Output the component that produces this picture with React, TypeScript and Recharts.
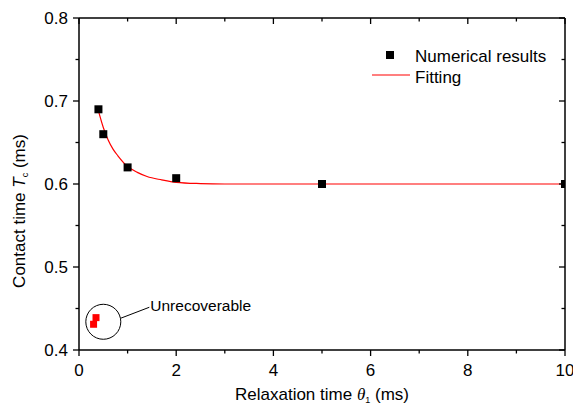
import React from "react";
import {
  ComposedChart,
  XAxis,
  YAxis,
  Scatter,
  Line,
  ReferenceDot,
} from "recharts";

// ---- data ----
const numericalX = [0.4, 0.5, 1, 2, 5, 10];
const numericalY = [0.69, 0.66, 0.62, 0.607, 0.6, 0.6];

const unrecoverableX = [0.3, 0.35];
const unrecoverableY = [0.431, 0.439];

const fitX = [0.4, 0.5, 0.6, 0.7, 0.8, 1.0, 1.2, 1.4, 1.7, 2.0, 2.5, 3.0, 4.0, 6.0, 8.0, 10.0];
const fitY = [0.688, 0.668, 0.653, 0.642, 0.634, 0.621, 0.614, 0.609, 0.605, 0.602, 0.6005, 0.6, 0.6, 0.6, 0.6, 0.6];

const xTicks = [0, 1, 2, 3, 4, 5, 6, 7, 8, 9, 10];
const xMajor = [0, 2, 4, 6, 8, 10];
const yTicks = [0.4, 0.45, 0.5, 0.55, 0.6, 0.65, 0.7, 0.75, 0.8];
const yMajor = [0.4, 0.5, 0.6, 0.7, 0.8];

const seriesNames = ["Numerical results", "Fitting"];
const annotationText = "Unrecoverable";
const annotationCenter = { x: 0.5, y: 0.434 };

const numerical = numericalX.map((x, i) => ({ x, y: numericalY[i] }));
const unrecoverable = unrecoverableX.map((x, i) => ({ x, y: unrecoverableY[i] }));
const fit = fitX.map((x, i) => ({ x, y: fitY[i] }));

const FONT = "'Liberation Sans', Arial, sans-serif";
const FS = 17;

const isMajor = (v: number, list: number[]) => list.some((m) => Math.abs(m - v) < 1e-6);

const BottomTick = (p: any) => {
  const { x, y, payload } = p;
  const major = isMajor(payload.value, xMajor);
  return (
    <g>
      <line x1={x} y1={y} x2={x} y2={y + (major ? 6 : 3.5)} stroke="#000" strokeWidth={1.3} />
      {major && (
        <text x={x} y={y + 26} textAnchor="middle" fontFamily={FONT} fontSize={FS} fill="#000">
          {payload.value}
        </text>
      )}
    </g>
  );
};

const TopTick = (p: any) => {
  const { x, y, payload } = p;
  const major = isMajor(payload.value, xMajor);
  return <line x1={x} y1={y} x2={x} y2={y + (major ? 6 : 3.5)} stroke="#000" strokeWidth={1.3} />;
};

const LeftTick = (p: any) => {
  const { x, y, payload } = p;
  const major = isMajor(payload.value, yMajor);
  return (
    <g>
      <line x1={x} y1={y} x2={x - (major ? 6 : 3.5)} y2={y} stroke="#000" strokeWidth={1.3} />
      {major && (
        <text x={x - 11} y={y + 6} textAnchor="end" fontFamily={FONT} fontSize={FS} fill="#000">
          {Number(payload.value).toFixed(1)}
        </text>
      )}
    </g>
  );
};

const RightTick = (p: any) => {
  const { x, y, payload } = p;
  const major = isMajor(payload.value, yMajor);
  return <line x1={x} y1={y} x2={x - (major ? 6 : 3.5)} y2={y} stroke="#000" strokeWidth={1.3} />;
};

const XLabel = (p: any) => {
  const vb = p.viewBox;
  const cx = vb.x + vb.width / 2;
  return (
    <text x={cx} y={vb.y + 50} textAnchor="middle" fontFamily={FONT} fontSize={FS} fill="#000">
      <tspan>Relaxation time </tspan>
      <tspan fontFamily="'Liberation Serif', serif" fontStyle="italic">θ</tspan>
      <tspan fontSize={9} dy={3}>1</tspan>
      <tspan dy={-3}> (ms)</tspan>
    </text>
  );
};

const YLabel = (p: any) => {
  const vb = p.viewBox;
  const cx = 25;
  const cy = vb.y + vb.height / 2 + 27;
  return (
    <text
      x={cx}
      y={cy}
      textAnchor="middle"
      fontFamily={FONT}
      fontSize={FS}
      fill="#000"
      transform={`rotate(-90, ${cx}, ${cy})`}
    >
      <tspan>Contact time </tspan>
      <tspan fontStyle="italic">T</tspan>
      <tspan fontSize={9} dy={3}>c</tspan>
      <tspan dy={-3}> (ms)</tspan>
    </text>
  );
};

const BlackSquare = (p: any) => (
  <rect x={p.cx - 4} y={p.cy - 4} width={8} height={8} fill="#000" />
);
const RedSquare = (p: any) => (
  <rect x={p.cx - 3.5} y={p.cy - 3.5} width={7} height={7} fill="#ff0000" />
);

const Annotation = (p: any) => {
  const { cx, cy } = p;
  if (cx == null || cy == null) return null;
  return (
    <g>
      <ellipse cx={cx} cy={cy} rx={17.5} ry={17.5} fill="none" stroke="#000" strokeWidth={1} />
      <line x1={cx + 17.3} y1={cy - 3.5} x2={cx + 46} y2={cy - 14.5} stroke="#000" strokeWidth={1} />
      <text x={cx + 47} y={cy - 10.5} fontFamily={FONT} fontSize={15.5} fill="#000">
        {annotationText}
      </text>
    </g>
  );
};

export default function App() {
  return (
    <div style={{ position: "absolute", left: 0, top: 0, width: 573, height: 405, background: "#fff" }}>
      <ComposedChart width={573} height={405} margin={{ top: 0, right: 0, bottom: 0, left: 0 }}>
        <XAxis
          xAxisId="b"
          type="number"
          dataKey="x"
          domain={[0, 10]}
          ticks={xTicks}
          interval={0}
          orientation="bottom"
          height={55}
          tickSize={0}
          tickMargin={0}
          tickLine={false}
          axisLine={{ stroke: "#000", strokeWidth: 1.5 }}
          tick={<BottomTick />}
          label={<XLabel />}
          allowDataOverflow
        />
        <XAxis
          xAxisId="t"
          type="number"
          dataKey="x"
          domain={[0, 10]}
          ticks={xTicks}
          interval={0}
          orientation="top"
          height={18}
          tickSize={0}
          tickMargin={0}
          tickLine={false}
          axisLine={{ stroke: "#000", strokeWidth: 1.5 }}
          tick={<TopTick />}
          allowDataOverflow
        />
        <YAxis
          yAxisId="l"
          type="number"
          dataKey="y"
          domain={[0.4, 0.8]}
          ticks={yTicks}
          interval={0}
          orientation="left"
          width={79}
          tickSize={0}
          tickMargin={0}
          tickLine={false}
          axisLine={{ stroke: "#000", strokeWidth: 1.5 }}
          tick={<LeftTick />}
          label={<YLabel />}
          allowDataOverflow
        />
        <YAxis
          yAxisId="r"
          type="number"
          dataKey="y"
          domain={[0.4, 0.8]}
          ticks={yTicks}
          interval={0}
          orientation="right"
          width={8}
          tickSize={0}
          tickMargin={0}
          tickLine={false}
          axisLine={{ stroke: "#000", strokeWidth: 1.5 }}
          tick={<RightTick />}
          allowDataOverflow
        />
        <Line
          xAxisId="b"
          yAxisId="l"
          data={fit}
          dataKey="y"
          type="monotone"
          stroke="#ff0000"
          strokeWidth={1.2}
          dot={false}
          activeDot={false}
          isAnimationActive={false}
          name={seriesNames[1]}
        />
        <Scatter
          xAxisId="b"
          yAxisId="l"
          data={numerical}
          dataKey="y"
          shape={<BlackSquare />}
          isAnimationActive={false}
          name={seriesNames[0]}
        />
        <Scatter
          xAxisId="b"
          yAxisId="l"
          data={unrecoverable}
          dataKey="y"
          shape={<RedSquare />}
          isAnimationActive={false}
        />
        <ReferenceDot
          xAxisId="b"
          yAxisId="l"
          x={annotationCenter.x}
          y={annotationCenter.y}
          shape={<Annotation />}
        />
      </ComposedChart>
      <svg
        width={200}
        height={50}
        style={{ position: "absolute", left: 360, top: 40, overflow: "visible" }}
      >
        <rect x={26} y={11} width={8} height={8} fill="#000" />
        <text x={55} y={22} fontFamily={FONT} fontSize={FS} fill="#000">
          {seriesNames[0]}
        </text>
        <line x1={12} y1={35} x2={50} y2={35} stroke="#ff0000" strokeWidth={1.2} />
        <text x={55} y={43} fontFamily={FONT} fontSize={FS} fill="#000">
          {seriesNames[1]}
        </text>
      </svg>
    </div>
  );
}
